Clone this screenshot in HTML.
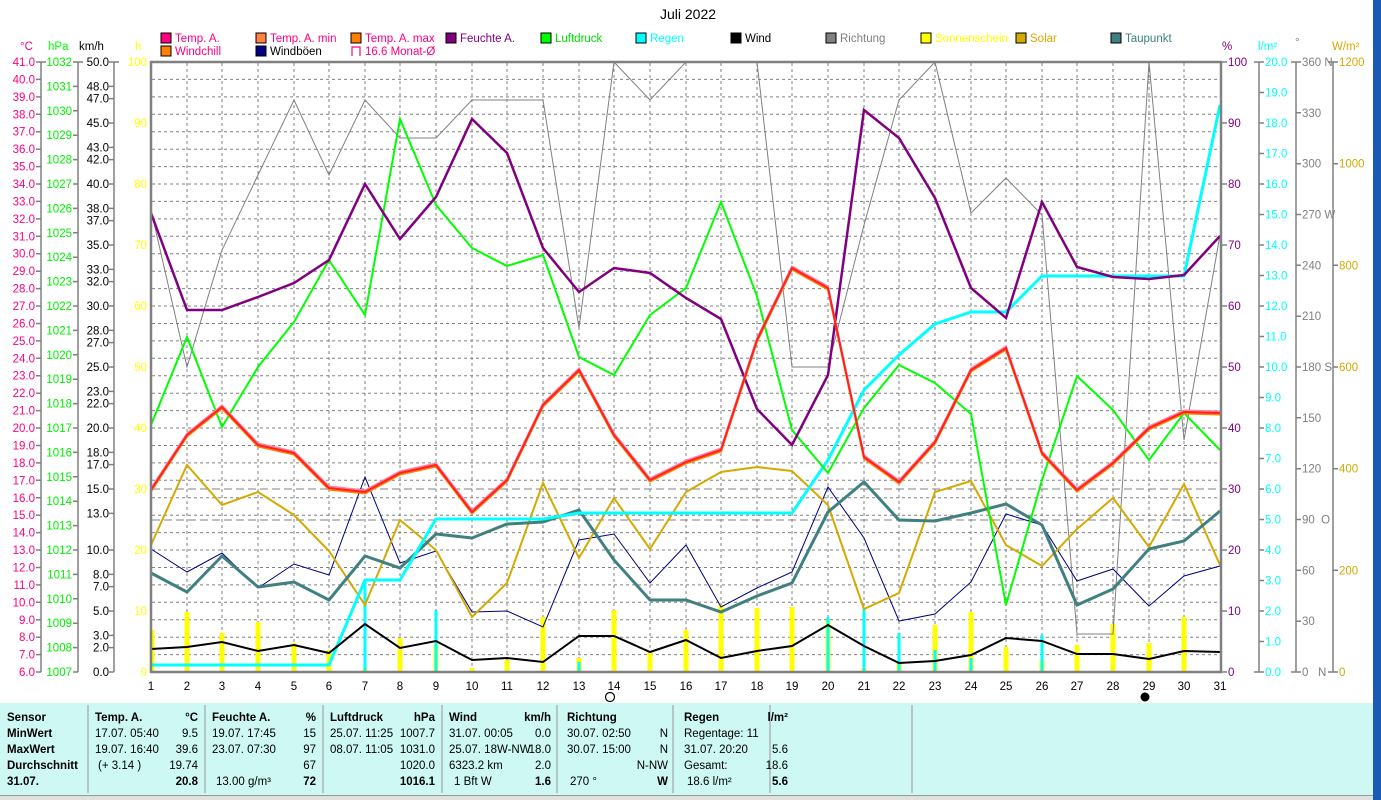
<!DOCTYPE html>
<html><head><meta charset="utf-8"><style>
html,body{margin:0;padding:0;width:1381px;height:800px;overflow:hidden;background:#fff;font-family:"Liberation Sans",sans-serif}
svg{position:absolute;left:0;top:0}
text{font-family:"Liberation Sans",sans-serif;font-size:11.5px}
</style></head><body>
<svg width="1381" height="800" viewBox="0 0 1381 800" xmlns="http://www.w3.org/2000/svg">
<rect x="1373" y="0" width="8" height="800" fill="#1a5ab4"/>
<text x="688" y="19" text-anchor="middle" font-size="14" style="font-size:14px">Juli 2022</text>
<!-- legend -->
<g stroke="#000" stroke-width="1">
<rect x="161" y="33" width="10" height="10" fill="#ff0080"/>
<rect x="256" y="33" width="10" height="10" fill="#ff8040"/>
<rect x="351" y="33" width="10" height="10" fill="#ff8000"/>
<rect x="446" y="33" width="10" height="10" fill="#800080"/>
<rect x="541" y="33" width="10" height="10" fill="#00ff00"/>
<rect x="636" y="33" width="10" height="10" fill="#00ffff"/>
<rect x="731" y="33" width="10" height="10" fill="#000"/>
<rect x="826" y="33" width="10" height="10" fill="#808080"/>
<rect x="921" y="33" width="10" height="10" fill="#ffff00"/>
<rect x="1016" y="33" width="10" height="10" fill="#d4aa00"/>
<rect x="1111" y="33" width="10" height="10" fill="#408080"/>
<rect x="161" y="46" width="10" height="10" fill="#ff8000"/>
<rect x="256" y="46" width="10" height="10" fill="#000080"/>
</g>
<path d="M352 56V47H360V56" fill="none" stroke="#ff0080" stroke-width="1.2"/>
<text x="175" y="42" fill="#ff0080">Temp. A.</text>
<text x="270" y="42" fill="#ff0080">Temp. A. min</text>
<text x="365" y="42" fill="#ff0080">Temp. A. max</text>
<text x="460" y="42" fill="#800080">Feuchte A.</text>
<text x="555" y="42" fill="#00e000">Luftdruck</text>
<text x="650" y="42" fill="#00ffff">Regen</text>
<text x="745" y="42" fill="#000">Wind</text>
<text x="840" y="42" fill="#808080">Richtung</text>
<text x="935" y="42" fill="#ffff00">Sonnenschein</text>
<text x="1030" y="42" fill="#d4aa00">Solar</text>
<text x="1125" y="42" fill="#408080">Taupunkt</text>
<text x="175" y="55" fill="#ff0080">Windchill</text>
<text x="270" y="55" fill="#000">Windböen</text>
<text x="365" y="55" fill="#ff0080">16.6 Monat-Ø</text>
<!-- unit headers -->
<text x="20" y="50" fill="#ff0080">°C</text>
<text x="48" y="50" fill="#00ff00">hPa</text>
<text x="79" y="50" fill="#000">km/h</text>
<text x="135" y="50" fill="#ffff00">h</text>
<text x="1222" y="50" fill="#800080">%</text>
<text x="1258" y="50" fill="#00ffff">l/m²</text>
<text x="1295" y="46" fill="#808080">°</text>
<text x="1332" y="50" fill="#d4aa00">W/m²</text>
<!-- grid -->
<g stroke="#808080" stroke-width="1" stroke-dasharray="3,3" fill="none">
<path d="M152 79.4H1220M152 96.9H1220M152 114.3H1220M152 131.7H1220M152 149.2H1220M152 166.6H1220M152 184H1220M152 201.4H1220M152 218.9H1220M152 236.3H1220M152 253.7H1220M152 271.2H1220M152 288.6H1220M152 306H1220M152 323.5H1220M152 340.9H1220M152 358.3H1220M152 375.7H1220M152 393.2H1220M152 410.6H1220M152 428H1220M152 445.5H1220M152 462.9H1220M152 480.3H1220M152 497.8H1220M152 515.2H1220M152 532.6H1220M152 550H1220M152 567.5H1220M152 584.9H1220M152 602.3H1220M152 619.8H1220M152 637.2H1220M152 654.6H1220"/>
<path d="M187 63V671M222 63V671M258 63V671M294 63V671M329 63V671M365 63V671M400 63V671M436 63V671M472 63V671M507 63V671M543 63V671M579 63V671M614 63V671M650 63V671M686 63V671M721 63V671M757 63V671M792 63V671M828 63V671M864 63V671M899 63V671M935 63V671M971 63V671M1006 63V671M1042 63V671M1077 63V671M1113 63V671M1149 63V671M1184 63V671"/>
</g>
<g stroke="#808080" stroke-dasharray="8,4" fill="none"><path d="M152 489H1220M152 520H1220"/></g>
<!-- yellow sunshine bars -->
<g stroke="#ffff00" stroke-width="5">
<path d="M152 672V630M187 672V612M222 672V633M258 672V622M294 672V643M329 672V650M365 672V668M400 672V638M436 672V645M472 672V668M507 672V660M543 672V617M579 672V658M614 672V610M650 672V652M686 672V630M721 672V605M757 672V608M792 672V607M828 672V620M864 672V668M899 672V662M935 672V625M971 672V612M1006 672V647M1042 672V660M1077 672V645M1113 672V624M1149 672V643M1184 672V617"/>
</g>
<!-- cyan rain bars -->
<g stroke="#00ffff" stroke-width="3">
<path d="M365 672V582M436 672V610M579 672V662M828 672V617M864 672V608M899 672V633M935 672V650M971 672V658M1042 672V635"/>
</g>
<!-- Richtung -->
<polyline fill="none" stroke="#808080" stroke-width="1" points="151,210 187,367 222,250 258,175 294,100 329,175 365,100 400,138 436,138 472,100 507,100 543,100 579,328 614,62 650,100 686,62 721,62 757,62 792,367 828,367 864,225 899,100 935,62 971,213 1006,178 1042,215 1077,634 1113,634 1149,62 1184,440 1220,235"/>
<!-- Windböen -->
<polyline fill="none" stroke="#000080" stroke-width="1" points="151,549 187,572 222,553 258,588 294,564 329,575 365,477 400,563 436,551 472,612 507,611 543,627 579,540 614,534 650,583 686,545 721,607 757,588 792,572 828,487 864,538 899,621 935,614 971,582 1006,514 1042,525 1077,581 1113,569 1149,606 1184,576 1220,566"/>
<!-- Solar -->
<polyline fill="none" stroke="#d4aa00" stroke-width="2" points="151,545 187,465 222,505 258,492 294,515 329,551 365,605 400,520 436,550 472,617 507,583 543,483 579,558 614,498 650,549 686,492 721,472 757,467 792,471 828,505 864,609 899,593 935,492 971,481 1006,545 1042,566 1077,529 1113,498 1149,547 1184,484 1220,565"/>
<!-- Taupunkt -->
<polyline fill="none" stroke="#408080" stroke-width="3" points="151,573 187,592 222,556 258,587 294,582 329,600 365,556 400,568 436,534 472,538 507,524 543,522 579,510 614,560 650,600 686,600 721,612 757,596 792,583 828,512 864,482 899,520 935,521 971,513 1006,504 1042,525 1077,605 1113,589 1149,549 1184,541 1220,511"/>
<!-- Regen cumulative -->
<polyline fill="none" stroke="#00ffff" stroke-width="3" points="151,665 187,665 222,665 258,665 294,665 329,665 365,580 400,580 436,519 472,519 507,519 543,519 579,513 614,513 650,513 686,513 721,513 757,513 792,513 828,460 864,390 899,355 935,324 971,312 1006,312 1042,276 1077,276 1113,276 1149,276 1184,276 1220,105"/>
<!-- Wind -->
<polyline fill="none" stroke="#000" stroke-width="2" points="151,649 187,647 222,642 258,651 294,645 329,653 365,624 400,648 436,641 472,660 507,658 543,662 579,636 614,636 650,652 686,640 721,658 757,651 792,646 828,625 864,646 899,663 935,661 971,655 1006,638 1042,641 1077,654 1113,654 1149,659 1184,651 1220,652"/>
<!-- Luftdruck -->
<polyline fill="none" stroke="#00ff00" stroke-width="2" points="151,425 187,337 222,427 258,367 294,322 329,260 365,315 400,119 436,205 472,248 507,266 543,255 579,357 614,375 650,315 686,288 721,202 757,296 792,430 828,473 864,408 899,365 935,383 971,414 1006,605 1042,480 1077,376 1113,410 1149,460 1184,413 1220,450"/>
<!-- Feuchte -->
<polyline fill="none" stroke="#800080" stroke-width="2.5" points="151,213 187,310 222,310 258,297 294,283 329,260 365,184 400,239 436,197 472,119 507,153 543,248 579,292 614,268 650,273 686,298 721,319 757,409 792,445 828,375 864,110 899,138 935,198 971,288 1006,318 1042,202 1077,267 1113,277 1149,279 1184,275 1220,236"/>
<!-- Temp -->
<polyline fill="none" stroke="#ff8000" stroke-width="2" transform="translate(0,1.5)" points="151,490 187,435 222,407 258,445 294,453 329,488 365,492 400,473 436,465 472,512 507,480 543,405 579,370 614,435 650,480 686,462 721,450 757,340 792,268 828,288 864,457 899,482 935,442 971,370 1006,348 1042,453 1077,490 1113,463 1149,428 1184,412 1220,413"/>
<polyline fill="none" stroke="#ff80a0" stroke-width="2" transform="translate(0,-1.5)" points="151,490 187,435 222,407 258,445 294,453 329,488 365,492 400,473 436,465 472,512 507,480 543,405 579,370 614,435 650,480 686,462 721,450 757,340 792,268 828,288 864,457 899,482 935,442 971,370 1006,348 1042,453 1077,490 1113,463 1149,428 1184,412 1220,413"/>
<polyline fill="none" stroke="#ff2020" stroke-width="2" points="151,490 187,435 222,407 258,445 294,453 329,488 365,492 400,473 436,465 472,512 507,480 543,405 579,370 614,435 650,480 686,462 721,450 757,340 792,268 828,288 864,457 899,482 935,442 971,370 1006,348 1042,453 1077,490 1113,463 1149,428 1184,412 1220,413"/>
<!-- frame -->
<rect x="151" y="62" width="1070" height="610" fill="none" stroke="#808080" stroke-width="2.5"/>
<!-- axes lines -->
<g stroke="#808080" stroke-width="1.5" fill="none">
<path d="M41 62V672M78 62V672M114 62V672M1259 62V672M1296 62V672M1333 62V672"/>
<path d="M36 62H41M36 79.4H41M36 96.9H41M36 114.3H41M36 131.7H41M36 149.2H41M36 166.6H41M36 184H41M36 201.4H41M36 218.9H41M36 236.3H41M36 253.7H41M36 271.2H41M36 288.6H41M36 306H41M36 323.5H41M36 340.9H41M36 358.3H41M36 375.7H41M36 393.2H41M36 410.6H41M36 428H41M36 445.5H41M36 462.9H41M36 480.3H41M36 497.8H41M36 515.2H41M36 532.6H41M36 550H41M36 567.5H41M36 584.9H41M36 602.3H41M36 619.8H41M36 637.2H41M36 654.6H41M36 672H41"/>
<path d="M41 62H46M73 62H78M73 86.4H78M73 110.8H78M73 135.2H78M73 159.6H78M73 184H78M73 208.4H78M73 232.8H78M73 257.2H78M73 281.6H78M73 306H78M73 330.4H78M73 354.8H78M73 379.2H78M73 403.6H78M73 428H78M73 452.4H78M73 476.8H78M73 501.2H78M73 525.6H78M73 550H78M73 574.4H78M73 598.8H78M73 623.2H78M73 647.6H78M73 672H78M78 62H83"/>
<path d="M109 62H119M109 86.4H114M109 98.6H114M109 123H114M109 147.4H114M109 159.6H114M109 184H114M109 208.4H114M109 220.6H114M109 245H114M109 269.4H114M109 281.6H114M109 306H114M109 330.4H114M109 342.6H114M109 367H114M109 391.4H114M109 403.6H114M109 428H114M109 452.4H114M109 464.6H114M109 489H114M109 513.4H114M109 550H114M109 574.4H114M109 586.6H114M109 611H114M109 635.4H114M109 647.6H114M109 672H114"/>
<path d="M1221 62H1227M1221 123H1227M1221 184H1227M1221 245H1227M1221 306H1227M1221 367H1227M1221 428H1227M1221 489H1227M1221 550H1227M1221 611H1227M1221 672H1227"/>
<path d="M1254 62H1264M1259 92.5H1264M1259 123H1264M1259 153.5H1264M1259 184H1264M1259 214.5H1264M1259 245H1264M1259 275.5H1264M1259 306H1264M1259 336.5H1264M1259 367H1264M1259 397.5H1264M1259 428H1264M1259 458.5H1264M1259 489H1264M1259 519.5H1264M1259 550H1264M1259 580.5H1264M1259 611H1264M1259 641.5H1264M1254 672H1264"/>
<path d="M1291 62H1301M1296 112.8H1301M1296 163.7H1301M1296 214.5H1301M1296 265.3H1301M1296 316.2H1301M1296 367H1301M1296 417.8H1301M1296 468.7H1301M1296 519.5H1301M1296 570.3H1301M1296 621.2H1301M1291 672H1301"/>
<path d="M1328 62H1338M1333 163.7H1338M1333 265.3H1338M1333 367H1338M1333 468.7H1338M1333 570.3H1338M1328 672H1338"/>
</g>
<!-- °C labels -->
<g fill="#ff0080" text-anchor="end">
<text x="35" y="66">41.0</text><text x="35" y="83.4">40.0</text><text x="35" y="100.9">39.0</text><text x="35" y="118.3">38.0</text><text x="35" y="135.7">37.0</text><text x="35" y="153.2">36.0</text><text x="35" y="170.6">35.0</text><text x="35" y="188">34.0</text><text x="35" y="205.4">33.0</text><text x="35" y="222.9">32.0</text><text x="35" y="240.3">31.0</text><text x="35" y="257.7">30.0</text><text x="35" y="275.2">29.0</text><text x="35" y="292.6">28.0</text><text x="35" y="310">27.0</text><text x="35" y="327.5">26.0</text><text x="35" y="344.9">25.0</text><text x="35" y="362.3">24.0</text><text x="35" y="379.7">23.0</text><text x="35" y="397.2">22.0</text><text x="35" y="414.6">21.0</text><text x="35" y="432">20.0</text><text x="35" y="449.5">19.0</text><text x="35" y="466.9">18.0</text><text x="35" y="484.3">17.0</text><text x="35" y="501.8">16.0</text><text x="35" y="519.2">15.0</text><text x="35" y="536.6">14.0</text><text x="35" y="554">13.0</text><text x="35" y="571.5">12.0</text><text x="35" y="588.9">11.0</text><text x="35" y="606.3">10.0</text><text x="35" y="623.8">9.0</text><text x="35" y="641.2">8.0</text><text x="35" y="658.6">7.0</text><text x="35" y="676">6.0</text>
</g>
<!-- hPa labels -->
<g fill="#00ee00" text-anchor="end">
<text x="72" y="66">1032</text><text x="72" y="90.4">1031</text><text x="72" y="114.8">1030</text><text x="72" y="139.2">1029</text><text x="72" y="163.6">1028</text><text x="72" y="188">1027</text><text x="72" y="212.4">1026</text><text x="72" y="236.8">1025</text><text x="72" y="261.2">1024</text><text x="72" y="285.6">1023</text><text x="72" y="310">1022</text><text x="72" y="334.4">1021</text><text x="72" y="358.8">1020</text><text x="72" y="383.2">1019</text><text x="72" y="407.6">1018</text><text x="72" y="432">1017</text><text x="72" y="456.4">1016</text><text x="72" y="480.8">1015</text><text x="72" y="505.2">1014</text><text x="72" y="529.6">1013</text><text x="72" y="554">1012</text><text x="72" y="578.4">1011</text><text x="72" y="602.8">1010</text><text x="72" y="627.2">1009</text><text x="72" y="651.6">1008</text><text x="72" y="676">1007</text>
</g>
<!-- km/h labels -->
<g fill="#000" text-anchor="end">
<text x="109" y="66">50.0</text><text x="109" y="90.4">48.0</text><text x="109" y="102.6">47.0</text><text x="109" y="127">45.0</text><text x="109" y="151.4">43.0</text><text x="109" y="163.6">42.0</text><text x="109" y="188">40.0</text><text x="109" y="212.4">38.0</text><text x="109" y="224.6">37.0</text><text x="109" y="249">35.0</text><text x="109" y="273.4">33.0</text><text x="109" y="285.6">32.0</text><text x="109" y="310">30.0</text><text x="109" y="334.4">28.0</text><text x="109" y="346.6">27.0</text><text x="109" y="371">25.0</text><text x="109" y="395.4">23.0</text><text x="109" y="407.6">22.0</text><text x="109" y="432">20.0</text><text x="109" y="456.4">18.0</text><text x="109" y="468.6">17.0</text><text x="109" y="493">15.0</text><text x="109" y="517.4">13.0</text><text x="109" y="554">10.0</text><text x="109" y="578.4">8.0</text><text x="109" y="590.6">7.0</text><text x="109" y="615">5.0</text><text x="109" y="639.4">3.0</text><text x="109" y="651.6">2.0</text><text x="109" y="676">0.0</text>
</g>
<!-- h labels -->
<g fill="#ffff00" text-anchor="end">
<text x="147" y="66">100</text><text x="147" y="127">90</text><text x="147" y="188">80</text><text x="147" y="249">70</text><text x="147" y="310">60</text><text x="147" y="371">50</text><text x="147" y="432">40</text><text x="147" y="493">30</text><text x="147" y="554">20</text><text x="147" y="615">10</text><text x="147" y="676">0</text>
</g>
<!-- % labels -->
<g fill="#800080">
<text x="1228" y="66">100</text><text x="1228" y="127">90</text><text x="1228" y="188">80</text><text x="1228" y="249">70</text><text x="1228" y="310">60</text><text x="1228" y="371">50</text><text x="1228" y="432">40</text><text x="1228" y="493">30</text><text x="1228" y="554">20</text><text x="1228" y="615">10</text><text x="1228" y="676">0</text>
</g>
<!-- l/m2 labels -->
<g fill="#00ffff">
<text x="1265" y="66">20.0</text><text x="1265" y="96.5">19.0</text><text x="1265" y="127">18.0</text><text x="1265" y="157.5">17.0</text><text x="1265" y="188">16.0</text><text x="1265" y="218.5">15.0</text><text x="1265" y="249">14.0</text><text x="1265" y="279.5">13.0</text><text x="1265" y="310">12.0</text><text x="1265" y="340.5">11.0</text><text x="1265" y="371">10.0</text><text x="1265" y="401.5">9.0</text><text x="1265" y="432">8.0</text><text x="1265" y="462.5">7.0</text><text x="1265" y="493">6.0</text><text x="1265" y="523.5">5.0</text><text x="1265" y="554">4.0</text><text x="1265" y="584.5">3.0</text><text x="1265" y="615">2.0</text><text x="1265" y="645.5">1.0</text><text x="1265" y="676">0.0</text>
</g>
<!-- degree labels -->
<g fill="#808080">
<text x="1302" y="66">360 N</text><text x="1302" y="116.8">330</text><text x="1302" y="167.7">300</text><text x="1302" y="218.5">270 W</text><text x="1302" y="269.3">240</text><text x="1302" y="320.2">210</text><text x="1302" y="371">180 S</text><text x="1302" y="421.8">150</text><text x="1302" y="472.7">120</text><text x="1302" y="523.5">90&#160;&#160;O</text><text x="1302" y="574.3">60</text><text x="1302" y="625.2">30</text><text x="1302" y="676">0&#160;&#160;&#160;N</text>
</g>
<!-- W/m2 labels -->
<g fill="#d4aa00">
<text x="1339" y="66">1200</text><text x="1339" y="167.7">1000</text><text x="1339" y="269.3">800</text><text x="1339" y="371">600</text><text x="1339" y="472.7">400</text><text x="1339" y="574.3">200</text><text x="1339" y="676">0</text>
</g>
<!-- x labels -->
<g fill="#000" text-anchor="middle">
<text x="151" y="690">1</text><text x="187" y="690">2</text><text x="222" y="690">3</text><text x="258" y="690">4</text><text x="294" y="690">5</text><text x="329" y="690">6</text><text x="365" y="690">7</text><text x="400" y="690">8</text><text x="436" y="690">9</text><text x="472" y="690">10</text><text x="507" y="690">11</text><text x="543" y="690">12</text><text x="579" y="690">13</text><text x="614" y="690">14</text><text x="650" y="690">15</text><text x="686" y="690">16</text><text x="721" y="690">17</text><text x="757" y="690">18</text><text x="792" y="690">19</text><text x="828" y="690">20</text><text x="864" y="690">21</text><text x="899" y="690">22</text><text x="935" y="690">23</text><text x="971" y="690">24</text><text x="1006" y="690">25</text><text x="1042" y="690">26</text><text x="1077" y="690">27</text><text x="1113" y="690">28</text><text x="1149" y="690">29</text><text x="1184" y="690">30</text><text x="1220" y="690">31</text>
</g>
<circle cx="610" cy="697" r="4.5" fill="#fff" stroke="#000" stroke-width="1.2"/>
<circle cx="1145" cy="697" r="4.5" fill="#000"/>
<!-- table -->
<rect x="0" y="703" width="1373" height="92" fill="#cdf8f4"/>
<g stroke="#999" stroke-width="1"><path d="M88 705V793M205 705V793M323 705V793M442 705V793M557 705V793M673 705V793M770 705V793M912 705V793"/></g>
<rect x="0" y="795" width="1373" height="5" fill="#e0e0e0"/>
<path d="M0 795.5H1373" stroke="#999"/>
<g fill="#000" font-size="11" style="font-size:11px">
<g font-weight="bold" style="font-weight:bold">
<text x="7" y="721">Sensor</text><text x="7" y="737">MinWert</text><text x="7" y="753">MaxWert</text><text x="7" y="769">Durchschnitt</text><text x="7" y="785">31.07.</text>
<text x="95" y="721">Temp. A.</text><text x="198" y="721" text-anchor="end">°C</text>
<text x="212" y="721">Feuchte A.</text><text x="316" y="721" text-anchor="end">%</text>
<text x="330" y="721">Luftdruck</text><text x="435" y="721" text-anchor="end">hPa</text>
<text x="449" y="721">Wind</text><text x="551" y="721" text-anchor="end">km/h</text>
<text x="567" y="721">Richtung</text>
<text x="684" y="721">Regen</text><text x="788" y="721" text-anchor="end">l/m²</text>
<text x="198" y="785" text-anchor="end">20.8</text><text x="316" y="785" text-anchor="end">72</text><text x="435" y="785" text-anchor="end">1016.1</text><text x="551" y="785" text-anchor="end">1.6</text><text x="668" y="785" text-anchor="end">W</text><text x="788" y="785" text-anchor="end">5.6</text>
</g>
<text x="95" y="737">17.07.  05:40</text><text x="198" y="737" text-anchor="end">9.5</text>
<text x="95" y="753">19.07.  16:40</text><text x="198" y="753" text-anchor="end">39.6</text>
<text x="98" y="769">(+ 3.14 )</text><text x="198" y="769" text-anchor="end">19.74</text>
<text x="212" y="737">19.07.  17:45</text><text x="316" y="737" text-anchor="end">15</text>
<text x="212" y="753">23.07.  07:30</text><text x="316" y="753" text-anchor="end">97</text>
<text x="316" y="769" text-anchor="end">67</text>
<text x="216" y="785">13.00 g/m³</text>
<text x="330" y="737">25.07.  11:25</text><text x="435" y="737" text-anchor="end">1007.7</text>
<text x="330" y="753">08.07.  11:05</text><text x="435" y="753" text-anchor="end">1031.0</text>
<text x="435" y="769" text-anchor="end">1020.0</text>
<text x="449" y="737">31.07.  00:05</text><text x="551" y="737" text-anchor="end">0.0</text>
<text x="449" y="753">25.07.  18W-NW</text><text x="551" y="753" text-anchor="end">18.0</text>
<text x="449" y="769">6323.2 km</text><text x="551" y="769" text-anchor="end">2.0</text>
<text x="454" y="785">1 Bft W</text>
<text x="567" y="737">30.07.  02:50</text><text x="668" y="737" text-anchor="end">N</text>
<text x="567" y="753">30.07.  15:00</text><text x="668" y="753" text-anchor="end">N</text>
<text x="668" y="769" text-anchor="end">N-NW</text>
<text x="570" y="785">270 °</text>
<text x="684" y="737">Regentage: 11</text>
<text x="684" y="753">31.07.  20:20</text><text x="788" y="753" text-anchor="end">5.6</text>
<text x="684" y="769">Gesamt:</text><text x="788" y="769" text-anchor="end">18.6</text>
<text x="687" y="785">18.6 l/m²</text>
</g>
</svg>
</body></html>
